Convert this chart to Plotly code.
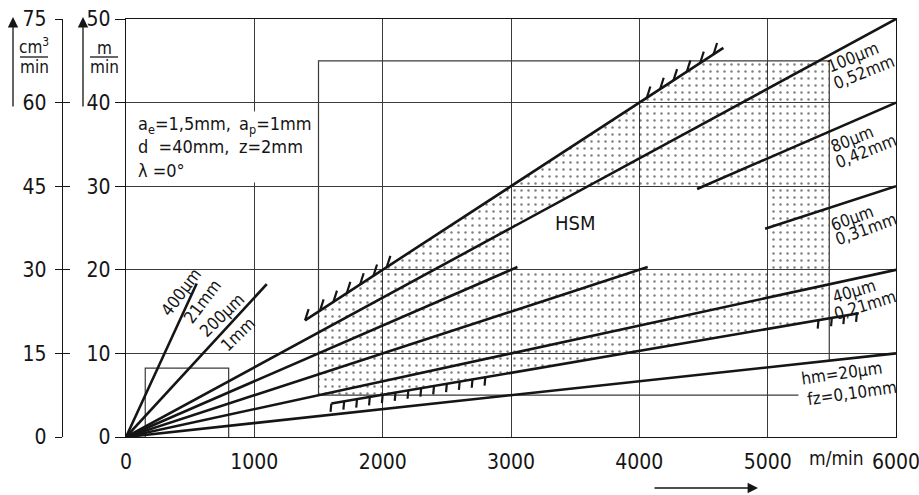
import numpy as np
import plotly.graph_objects as go

# ---------------- data ----------------
vc_ticks = [0, 1000, 2000, 3000, 4000, 5000, 6000]          # cutting speed, m/min
vf_ticks = [0, 10, 20, 30, 40, 50]                           # feed velocity, m/min
q_ticks = [0, 15, 30, 45, 60, 75]                            # removal rate, cm3/min

# fan lines (through origin): feed velocity reached at vc = 6000 m/min
hm_names = ["400µm", "200µm", "100µm", "80µm", "60µm", "40µm", "20µm"]
fz_names = ["21mm", "1mm", "0,52mm", "0,42mm", "0,31mm", "0,21mm", "fz=0,10mm"]
vf_at_6000 = [200, 100, 50, 40, 30, 20, 10]
line_segments = [
    [(0, 551)],
    [(0, 1097)],
    [(0, 6000)],
    [(0, 3050), (4450, 6000)],
    [(0, 4065), (4980, 6000)],
    [(0, 6000)],
    [(0, 6000)],
]

# HSM limit lines (hatched)
upper_limit_x = [1395, 4655]
upper_limit_y = [13.95, 46.55]
lower_limit_x = [1600, 5710]
lower_limit_y = [4.0, 14.8]
upper_hatch_x = [1395, 1512, 1616, 1720, 1824, 1928, 2032,
                 4058, 4162, 4266, 4370, 4474, 4578]
lower_hatch_x = [1600, 1700, 1800, 1900, 2000, 2100, 2200, 2300, 2400,
                 2500, 2600, 2700, 2800, 5396, 5500, 5596, 5695]

# HSM field and cut-out
hsm_x = [1500, 5480]
hsm_y = [5, 45]
hsm_floor_end = 5240
cutout_x = [3000, 5000]
cutout_y = [20, 30]
# conventional milling box
conv_x = [150, 800]
conv_y = [0, 8.25]

# ---------------- helpers ----------------
W, H = 919, 495
ML, MR, MT, MB = 10, 23, 19, 58
PW, PH = W - ML - MR, H - MT - MB
X0 = (126 - ML) / PW
FONT = "Liberation Sans Narrow, Arial Narrow, DejaVu Sans Condensed, Roboto Condensed, sans-serif"
INK = "#151515"
GRID = "#3a3a3a"


def px(xp):
    return (xp - ML) / PW


def py(yp):
    return (H - MB - yp) / PH


def slope(i):
    return vf_at_6000[i] / vc_ticks[-1]


def lower_y(x):
    return lower_limit_y[0] + (x - lower_limit_x[0]) * (lower_limit_y[1] - lower_limit_y[0]) / (lower_limit_x[1] - lower_limit_x[0])


def upper_y(x):
    return upper_limit_y[0] + (x - upper_limit_x[0]) * (upper_limit_y[1] - upper_limit_y[0]) / (upper_limit_x[1] - upper_limit_x[0])


def upper_x_at(y):
    return upper_limit_x[0] + (y - upper_limit_y[0]) * (upper_limit_x[1] - upper_limit_x[0]) / (upper_limit_y[1] - upper_limit_y[0])


def lower_x_at(y):
    return lower_limit_x[0] + (y - lower_limit_y[0]) * (lower_limit_x[1] - lower_limit_x[0]) / (lower_limit_y[1] - lower_limit_y[0])


fig = go.Figure()

# ---------------- dotted HSM region (with cut-out, via slit) ----------------
s100 = slope(2)
xa, xb = hsm_x
ya, yb = hsm_y
cx0, cx1 = cutout_x
cy0, cy1 = cutout_y
poly_x = [xa, lower_x_at(ya), cx1, cx1, cx0, cx0, cy1 / s100, cx1, cx1, xb, xb, upper_x_at(yb), xa, xa]
poly_y = [ya, ya, lower_y(cx1), cy0, cy0, cx0 * s100, cy1, cy1, lower_y(cx1), lower_y(xb), yb, yb, upper_y(xa), ya]
fig.add_trace(go.Scatter(x=poly_x, y=poly_y, mode="lines", fill="toself",
                         line=dict(width=0, color="rgba(0,0,0,0)"),
                         fillcolor="rgba(0,0,0,0)",
                         fillpattern=dict(shape=".", size=7, solidity=0.1, fgcolor="#000"),
                         hoverinfo="skip", showlegend=False))

# thin outline of HSM field and conventional box
s20 = slope(6)
fig.add_trace(go.Scatter(
    x=[xa, xa, xb, xb, None, xa, hsm_floor_end, None, conv_x[0], conv_x[0], conv_x[1], conv_x[1]],
    y=[ya, yb, yb, xb * s20, None, ya, ya, None, conv_y[0], conv_y[1], conv_y[1], conv_y[0]],
    mode="lines", line=dict(color=GRID, width=1.2), hoverinfo="skip", showlegend=False))

# ---------------- fan lines ----------------
for i, segs in enumerate(line_segments):
    xs, ys = [], []
    for (a, b) in segs:
        xs += [a, b, None]
        ys += [a * slope(i), b * slope(i), None]
    fig.add_trace(go.Scatter(x=xs, y=ys, mode="lines", line=dict(color=INK, width=2.6),
                             hoverinfo="skip", showlegend=False))

# ---------------- limit lines with hatches ----------------
fig.add_trace(go.Scatter(x=upper_limit_x, y=upper_limit_y, mode="lines",
                         line=dict(color=INK, width=2.6), hoverinfo="skip", showlegend=False))
fig.add_trace(go.Scatter(x=lower_limit_x, y=lower_limit_y, mode="lines",
                         line=dict(color=INK, width=2.6), hoverinfo="skip", showlegend=False))
hx, hy = [], []
for x in upper_hatch_x:
    y = upper_y(x)
    hx += [x, x + 28, None]
    hy += [y, y + 1.35, None]
for x in lower_hatch_x:
    y = lower_y(x)
    hx += [x, x - 6, None]
    hy += [y, y - 1.0, None]
fig.add_trace(go.Scatter(x=hx, y=hy, mode="lines", line=dict(color=INK, width=2.2),
                         hoverinfo="skip", showlegend=False))

# dummy traces for secondary axes
fig.add_trace(go.Scatter(x=[0], y=[0], yaxis="y2", mode="markers", marker=dict(opacity=0),
                         hoverinfo="skip", showlegend=False))
fig.add_trace(go.Scatter(x=[0], y=[0], yaxis="y3", mode="markers", marker=dict(opacity=0),
                         hoverinfo="skip", showlegend=False))

# ---------------- annotations ----------------
ann = []


def label(text, xp, yp, angle, size=17, anchor="center"):
    ann.append(dict(text=text, x=px(xp), y=py(yp), xref="paper", yref="paper",
                    showarrow=False, textangle=angle, xanchor=anchor, yanchor="middle",
                    font=dict(family=FONT, size=size, color=INK)))


# steep lines
label(hm_names[0], 181, 292, -53)
label(fz_names[0], 202, 302, -53)
label(hm_names[1], 222, 315, -44)
label(fz_names[1], 238, 334, -44)
# right-hand labels
label(hm_names[2], 853, 57, -22)
label(fz_names[2], 864, 72, -22)
label(hm_names[3], 852, 139, -22)
label(fz_names[3], 866, 151, -22)
label(hm_names[4], 852, 218, -20)
label(fz_names[4], 866, 229, -20)
label(hm_names[5], 854, 291, -17)
label(fz_names[5], 865, 305, -17)
label("hm=" + hm_names[6], 842, 373, -8)
label(fz_names[6], 852, 393, -8)
label("HSM", 575, 223, 0, size=20)

# parameter block
ann.append(dict(text="a<sub>e</sub>=1,5mm,<br>d  =40mm,<br>λ =0°", x=px(136), y=py(147),
                xref="paper", yref="paper", showarrow=False, xanchor="left", yanchor="middle",
                align="left", bgcolor="white", font=dict(family=FONT, size=18, color=INK)))
ann.append(dict(text="a<sub>p</sub>=1mm<br>z=2mm<br> ", x=px(237), y=py(147),
                xref="paper", yref="paper", showarrow=False, xanchor="left", yanchor="middle",
                align="left", bgcolor="white", font=dict(family=FONT, size=18, color=INK)))

# axis units
label("cm<sup>3</sup>", 34, 46, 0, size=17)
label("min", 34, 67, 0, size=17)
label("m", 104, 48, 0, size=17)
label("min", 104, 67, 0, size=17)
label("m/min", 836, 458, 0, size=19)

# arrows
for xp in (13, 83):
    ann.append(dict(text="", x=px(xp), y=py(17), xref="paper", yref="paper", showarrow=True,
                    ax=0, ay=91, arrowhead=2, arrowsize=1.6, arrowwidth=1.3, arrowcolor=INK))
ann.append(dict(text="", x=px(758), y=py(488), xref="paper", yref="paper", showarrow=True,
                ax=-105, ay=0, arrowhead=2, arrowsize=1.6, arrowwidth=1.3, arrowcolor=INK))

shapes = [
    dict(type="line", xref="paper", yref="paper", x0=px(20), x1=px(48), y0=py(57), y1=py(57),
         line=dict(color=INK, width=1.3)),
    dict(type="line", xref="paper", yref="paper", x0=px(90), x1=px(118), y0=py(57), y1=py(57),
         line=dict(color=INK, width=1.3)),
]

tickfont = dict(family=FONT, size=21, color=INK)
fig.update_layout(
    width=W, height=H, margin=dict(l=ML, r=MR, t=MT, b=MB, autoexpand=False),
    paper_bgcolor="white", plot_bgcolor="white", showlegend=False,
    annotations=ann, shapes=shapes,
    xaxis=dict(range=[vc_ticks[0], vc_ticks[-1]], domain=[X0, 1], tickvals=vc_ticks,
               ticktext=[str(v) for v in vc_ticks], showgrid=True, gridcolor=GRID, gridwidth=1.1,
               showline=True, linecolor=INK, linewidth=1.3, mirror=True, zeroline=False,
               ticks="", tickfont=tickfont, ticklabelstandoff=6, fixedrange=True,
               automargin=False, ticklabeloverflow="allow"),
    yaxis=dict(range=[vf_ticks[0], vf_ticks[-1]], tickvals=vf_ticks, showgrid=True,
               gridcolor=GRID, gridwidth=1.1, showline=True, linecolor=INK, linewidth=1.3,
               mirror=True, zeroline=False, ticks="outside", ticklen=10, tickcolor=INK,
               tickfont=tickfont, ticklabelstandoff=0, fixedrange=True, automargin=False,
               ticklabeloverflow="allow"),
    yaxis2=dict(range=[q_ticks[0], q_ticks[-1]], tickvals=q_ticks, overlaying="y", anchor="free",
                position=px(62), side="left", showgrid=False, showline=True, linecolor=INK,
                linewidth=1.3, zeroline=False, ticks="outside", ticklen=7, tickcolor=INK,
                tickfont=tickfont, ticklabelstandoff=4, fixedrange=True, automargin=False,
                ticklabeloverflow="allow"),
    yaxis3=dict(range=[q_ticks[0], q_ticks[-1]], tickvals=q_ticks, overlaying="y", anchor="free",
                position=px(62), side="left", showgrid=False, showline=False, zeroline=False,
                ticks="inside", ticklen=7, tickcolor=INK, showticklabels=False, fixedrange=True,
                automargin=False),
)

fig.write_html("out.html", config={"displayModeBar": False},
               post_script="document.body.style.margin='0';document.body.style.overflow='hidden';")
